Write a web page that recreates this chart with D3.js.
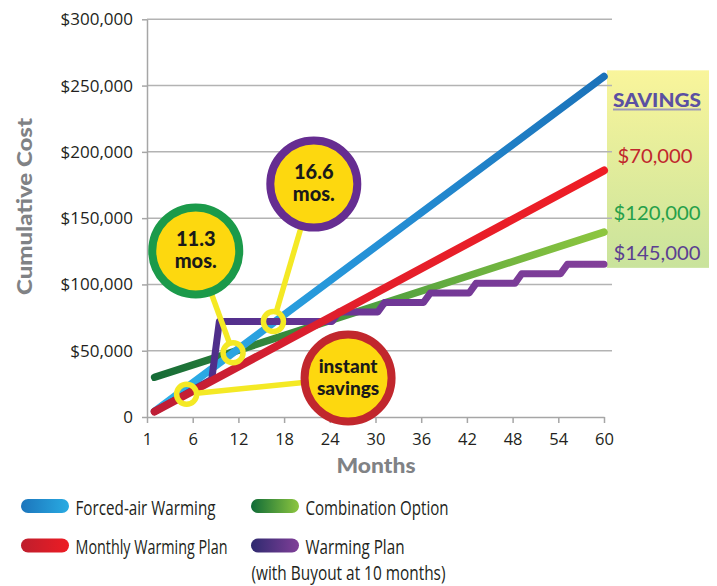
<!DOCTYPE html>
<html><head><meta charset="utf-8">
<script src="https://cdn.jsdelivr.net/npm/d3@7"></script>
<style>body{margin:0;background:#fff}svg{display:block}</style>
</head><body><svg id="c" width="717" height="586"></svg>
<script>
// ---------- data ----------
const lineMonths = [1, 60];
const forcedAir = [4300, 256800];
const monthlyPlan = [4150, 186000];
const combination = [30000, 139500];
const buyoutMonths = [1, 8.5, 9.5, 24.3, 25.2, 30.3, 31.2, 36.3, 37.2, 42.3, 43.2, 48.3, 49.2, 54.3, 55.2, 60];
const buyoutValues = [4150, 28500, 72000, 72000, 79200, 79200, 86400, 86400, 93600, 93600, 100800, 100800, 108000, 108000, 115200, 115200];

const xTicks = [0, 6, 12, 18, 24, 30, 36, 42, 48, 54, 60];
const xTickLabels = ["1", "6", "12", "18", "24", "30", "36", "42", "48", "54", "60"];
const yTicks = [0, 50000, 100000, 150000, 200000, 250000, 300000];
const yTickLabels = ["0", "$50,000", "$100,000", "$150,000", "$200,000", "$250,000", "$300,000"];

const calloutText = [["11.3", "mos."], ["16.6", "mos."], ["instant", "savings"]];
const calloutMonth = [11.3, 16.6, 5.2];
const calloutValue = [48400, 72000, 17100];
const bubbleMonth = [6.4, 21.9, 26.4];
const bubbleValue = [125300, 175700, 29400];

const savingsLabels = ["$70,000", "$120,000", "$145,000"];

const legendLabels = ["Forced-air Warming", "Combination Option", "Monthly Warming Plan", "Warming Plan"];

// ---------- styles ----------
const svg = d3.select("#c");
const x = d3.scaleLinear([0, 60], [147, 604]);
const y = d3.scaleLinear([0, 300000], [417, 19.3]);
const defs = svg.append("defs");
function grad(id, stops, x1, x2) {
  const g = defs.append("linearGradient").attr("id", id).attr("gradientUnits", "userSpaceOnUse")
    .attr("x1", x1).attr("x2", x2).attr("y1", 0).attr("y2", 0);
  stops.forEach(s => g.append("stop").attr("offset", s[0]).attr("stop-color", s[1]));
}
grad("gBlue", [[0, "#2db1e8"], [0.5, "#2590d6"], [1, "#1b72b9"]], x(0), x(60));
grad("gRed", [[0, "#bd1e36"], [0.45, "#e31f2b"], [1, "#ee1d25"]], x(0), x(60));
grad("gGreen", [[0, "#146a36"], [0.5, "#4f9f40"], [1, "#8dc63f"]], x(0), x(60));
grad("gPurple", [[0, "#3f2b85"], [0.4, "#6a3595"], [1, "#823f99"]], x(0), x(60));
const sv = defs.append("linearGradient").attr("id", "gBox").attr("x1", 0).attr("x2", 0).attr("y1", 0).attr("y2", 1);
sv.append("stop").attr("offset", 0).attr("stop-color", "#f9f59b");
sv.append("stop").attr("offset", 1).attr("stop-color", "#c9e39c");

// savings box
svg.append("rect").attr("x", x(60) + 3).attr("y", y(261500)).attr("width", 102)
  .attr("height", y(112500) - y(261500)).attr("fill", "url(#gBox)");

// gridlines
svg.append("g").selectAll("line").data(yTicks.filter(d => d > 0)).join("line")
  .attr("x1", x(0)).attr("x2", x(60) + 8).attr("y1", d => y(d)).attr("y2", d => y(d))
  .attr("stroke", "#b3b3b3").attr("stroke-width", 1.5);

// axes
const yAxis = svg.append("g").attr("transform", `translate(${x(0)},0)`)
  .call(d3.axisLeft(y).tickValues(yTicks).tickFormat((d, i) => yTickLabels[i]).tickSize(5).tickSizeOuter(0).tickPadding(9));
const xAxis = svg.append("g").attr("transform", `translate(0,${y(0)})`)
  .call(d3.axisBottom(x).tickValues(xTicks).tickFormat((d, i) => xTickLabels[i]).tickSize(6).tickSizeOuter(0));
[yAxis, xAxis].forEach(a => {
  a.select(".domain").attr("stroke", "#a6a6a6").attr("stroke-width", 1.5);
  a.selectAll(".tick line").attr("stroke", "#a6a6a6").attr("stroke-width", 1.5);
  a.selectAll("text").attr("fill", "#231f20").attr("font-family", "'Open Sans', sans-serif");
});
yAxis.selectAll("text").attr("font-size", 17);
xAxis.selectAll("text").attr("font-size", 16.5).attr("y", 28).attr("dy", 0);

// axis titles
svg.append("text").attr("transform", `translate(31.5,206.5) rotate(-90)`)
  .attr("text-anchor", "middle").attr("font-family", "Lato, sans-serif").attr("font-weight", 900)
  .attr("font-size", 20.5).attr("fill", "#808285").attr("textLength", 177).attr("lengthAdjust", "spacingAndGlyphs")
  .text("Cumulative Cost");
svg.append("text").attr("x", 376).attr("y", 473).attr("text-anchor", "middle")
  .attr("font-family", "Lato, sans-serif").attr("font-weight", 900).attr("font-size", 20.5)
  .attr("fill", "#808285").attr("textLength", 79).attr("lengthAdjust", "spacingAndGlyphs").text("Months");

// lines
const lineGen = d3.line().x(d => x(d[0])).y(d => y(d[1]));
function drawLine(ms, vs, color, w) {
  svg.append("path").attr("d", lineGen(ms.map((m, i) => [m, vs[i]])))
    .attr("fill", "none").attr("stroke", color).attr("stroke-width", w)
    .attr("stroke-linecap", "round").attr("stroke-linejoin", "round");
}
drawLine(lineMonths, combination, "url(#gGreen)", 7.5);
drawLine(lineMonths, forcedAir, "url(#gBlue)", 7.5);
drawLine(buyoutMonths, buyoutValues, "url(#gPurple)", 7);
drawLine(lineMonths, monthlyPlan, "url(#gRed)", 8);

// callouts
const ringColors = ["#1b9a4a", "#662d91", "#c1272d"];
const ringR = 10, bubbleR = 43.5;
calloutText.forEach((t, i) => {
  const px = x(calloutMonth[i]), py = y(calloutValue[i]);
  const bx = x(bubbleMonth[i]), by = y(bubbleValue[i]);
  const dx = bx - px, dy = by - py, L = Math.hypot(dx, dy);
  svg.append("line").attr("x1", px + dx / L * ringR).attr("y1", py + dy / L * ringR)
    .attr("x2", bx).attr("y2", by).attr("stroke", "#f4e925").attr("stroke-width", 5.5);
  svg.append("circle").attr("cx", px).attr("cy", py).attr("r", ringR)
    .attr("fill", "none").attr("stroke", "#f4e925").attr("stroke-width", 5.5);
  svg.append("circle").attr("cx", bx).attr("cy", by).attr("r", bubbleR)
    .attr("fill", "#fdd80f").attr("stroke", ringColors[i]).attr("stroke-width", 8);
  const fs = i === 2 ? 19 : 20;
  [0, 1].forEach(k => {
    svg.append("text").attr("x", bx).attr("y", by + (k === 0 ? -5 : 17)).attr("text-anchor", "middle")
      .attr("font-family", "Lato, sans-serif").attr("font-weight", 900).attr("font-size", fs)
      .attr("fill", "#1a1a1a").text(t[k]);
  });
});

// savings labels
const sx = x(60) + 53;
svg.append("text").attr("x", sx).attr("y", 106.5).attr("text-anchor", "middle")
  .attr("font-family", "Lato, sans-serif").attr("font-weight", 900).attr("font-size", 19)
  .attr("fill", "#5b50a2").attr("textLength", 88).attr("lengthAdjust", "spacingAndGlyphs").text("SAVINGS");
svg.append("line").attr("x1", sx - 44).attr("x2", sx + 44).attr("y1", 109.5).attr("y2", 109.5)
  .attr("stroke", "#9d9ab8").attr("stroke-width", 1.8);
const savColors = ["#c1272d", "#26a04a", "#5b3f91"];
const savY = [163, 220, 260];
const savW = [75, 87, 87];
savingsLabels.forEach((s, i) => {
  svg.append("text").attr("x", sx + (i === 0 ? -2 : 0)).attr("y", savY[i]).attr("text-anchor", "middle")
    .attr("font-family", "Lato, sans-serif").attr("font-size", 20).attr("fill", savColors[i])
    .attr("textLength", savW[i]).attr("lengthAdjust", "spacingAndGlyphs").text(s);
});

// legend
grad("lBlue", [[0, "#1c75bc"], [1, "#29abe2"]], 21, 69);
grad("lRed", [[0, "#be1e2d"], [1, "#ed1c24"]], 21, 69);
grad("lGreen", [[0, "#0f6b37"], [1, "#8dc63f"]], 251, 299);
grad("lPurple", [[0, "#2e2a6f"], [1, "#803f98"]], 251, 299);
const legX = [21, 251, 21, 251];
const legY = [506, 506, 545.5, 545.5];
const legFill = ["url(#lBlue)", "url(#lGreen)", "url(#lRed)", "url(#lPurple)"];
const legW = [140, 143, 152, 99];
legendLabels.forEach((l, i) => {
  svg.append("rect").attr("x", legX[i]).attr("y", legY[i] - 7).attr("width", 48).attr("height", 14)
    .attr("rx", 7).attr("fill", legFill[i]);
  svg.append("text").attr("x", legX[i] + 54.5).attr("y", legY[i] + 8.5)
    .attr("font-family", "'Open Sans', sans-serif").attr("font-size", 20).attr("fill", "#231f20")
    .attr("textLength", legW[i]).attr("lengthAdjust", "spacingAndGlyphs").text(l);
});
svg.append("text").attr("x", 251.5).attr("y", 579.5)
  .attr("font-family", "'Open Sans', sans-serif").attr("font-size", 20).attr("fill", "#231f20")
  .attr("textLength", 194).attr("lengthAdjust", "spacingAndGlyphs").text("(with Buyout at 10 months)");
</script></body></html>
